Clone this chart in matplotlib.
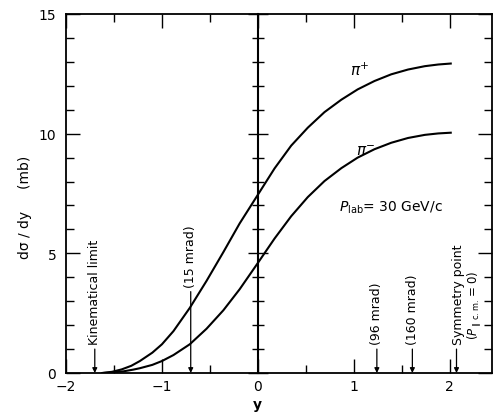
"""
Rapidity distribution d(sigma)/dy for pi+ and pi- at P_lab = 30 GeV/c.
"""

import matplotlib
matplotlib.use("Agg")  # headless backend
import matplotlib.pyplot as plt
from matplotlib.ticker import MultipleLocator

# pi+ curve
y_pip = [-1.62, -1.52, -1.42, -1.32, -1.23, -1.10, -1.00, -0.88, -0.71,
         -0.535, -0.36, -0.19, 0.0, 0.174, 0.347, 0.52, 0.694, 0.87, 1.04,
         1.215, 1.39, 1.565, 1.74, 1.88, 2.01]
dsdy_pip = [0.0, 0.05, 0.15, 0.30, 0.50, 0.85, 1.20, 1.75, 2.72,
            3.85, 5.05, 6.25, 7.45, 8.55, 9.50, 10.25, 10.90, 11.42, 11.85,
            12.20, 12.48, 12.68, 12.82, 12.89, 12.93]

# pi- curve
y_pim = [-1.62, -1.50, -1.40, -1.30, -1.23, -1.10, -1.00, -0.88, -0.71,
         -0.535, -0.36, -0.19, 0.0, 0.174, 0.347, 0.52, 0.694, 0.87, 1.04,
         1.215, 1.39, 1.565, 1.74, 1.88, 2.01]
dsdy_pim = [0.0, 0.03, 0.07, 0.14, 0.20, 0.34, 0.50, 0.75, 1.20,
            1.85, 2.62, 3.50, 4.60, 5.62, 6.55, 7.35, 8.02, 8.56, 9.00,
            9.35, 9.62, 9.82, 9.95, 10.01, 10.04]

# arrows marking kinematic points
mark_y = [-1.70, -0.70, 1.24, 1.61, 2.07]
mark_top = [1.0, 3.4, 1.0, 1.0, 1.0]
mark_labels = ["Kinematical limit", "(15 mrad)", "(96 mrad)", "(160 mrad)",
               "Symmetry point"]
mark_text_y = [1.2, 3.6, 1.2, 1.2, 1.2]

fig = plt.figure(figsize=(4.93, 4.14), dpi=100)
ax = fig.add_axes([66 / 493, 40 / 414, 426 / 493, 359 / 414])

ax.plot(y_pip, dsdy_pip, color="black", linewidth=1.5)
ax.plot(y_pim, dsdy_pim, color="black", linewidth=1.5)

ax.set_xlim(-2, 2.44)
ax.set_ylim(0, 15)

ax.xaxis.set_major_locator(MultipleLocator(1))
ax.xaxis.set_minor_locator(MultipleLocator(0.5))
ax.yaxis.set_major_locator(MultipleLocator(5))
ax.yaxis.set_minor_locator(MultipleLocator(1))
ax.tick_params(which="both", direction="in", top=True, right=True,
               width=1.0, labelsize=10, pad=7)
ax.tick_params(axis="x", which="both", pad=4)
ax.tick_params(which="major", length=10)
ax.tick_params(which="minor", length=5.5)
ax.set_xticks([-2, -1, 0, 1, 2])
ax.set_xticklabels(["\u22122", "\u22121", "0", "1", "2"])
for s in ax.spines.values():
    s.set_linewidth(1.3)

# inner axis along y = 0 with crossing ticks
sec = ax.secondary_yaxis(2 / 4.44)
sec.yaxis.set_major_locator(MultipleLocator(5))
sec.yaxis.set_minor_locator(MultipleLocator(1))
sec.tick_params(which="both", direction="inout", labelleft=False, width=1.0)
sec.tick_params(which="major", length=14)
sec.tick_params(which="minor", length=9)
sec.spines["left"].set_linewidth(1.5)

ax.set_xlabel("y", fontsize=10, fontweight="bold")
ax.xaxis.set_label_coords(0.45, -0.068)
ax.set_ylabel("d\u03c3 / dy     (mb)", fontsize=10)
ax.yaxis.set_label_coords(-0.08, 0.465)

# curve labels
ax.text(1.06, 12.7, r"$\pi^{+}$", fontsize=11, ha="center", va="center")
ax.text(1.13, 9.3, r"$\pi^{-}$", fontsize=11, ha="center", va="center")
ax.text(0.85, 6.95, r"$P_{\mathrm{lab}}$= 30 GeV/c", fontsize=10,
        ha="left", va="center")

# arrows and rotated labels
for x, top, lab, ty in zip(mark_y, mark_top, mark_labels, mark_text_y):
    ax.annotate("", xy=(x, 0), xytext=(x, top),
                arrowprops=dict(arrowstyle="-|>", color="black", lw=0.9,
                                mutation_scale=7, shrinkA=0, shrinkB=0))
    ax.text(x + (0.02 if x > 2 else 0), ty, lab, rotation=90, fontsize=9,
            ha="center", va="bottom")
ax.text(2.255, 1.4, r"$(P_{\parallel\,\mathrm{c.m.}}=0)$", rotation=90,
        fontsize=8.5, ha="center", va="bottom")

fig.savefig("out.png", dpi=100)
